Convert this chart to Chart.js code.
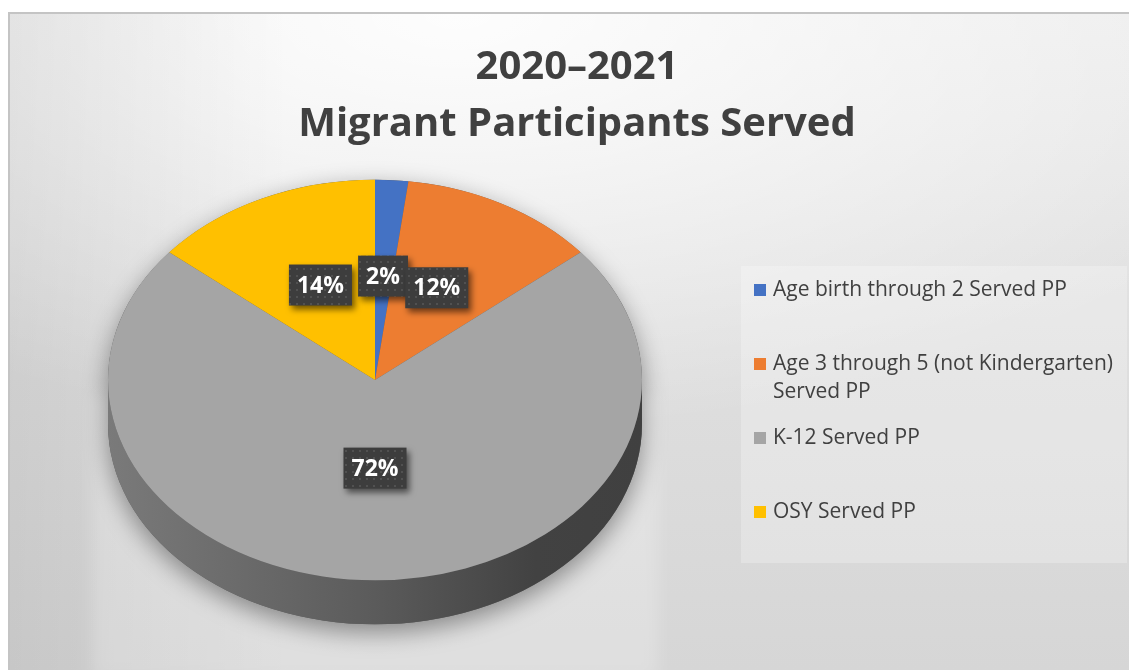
<!DOCTYPE html>
<html>
<head>
<meta charset="utf-8">
<title>Migrant Participants Served</title>
<script src="https://cdn.jsdelivr.net/npm/chart.js@4.4.1/dist/chart.umd.min.js"></script>
<style>
    html, body { margin: 0; padding: 0; background: #fff; }
    body { width: 1129px; height: 670px; position: relative; overflow: hidden; font-family: 'Open Sans', Lato, sans-serif; }
    #frame {
        position: absolute; left: 8px; top: 12px; right: 0; bottom: 0;
        border-left: 2px solid #c4c4c4; border-top: 2px solid #c4c4c4;
        background:
            linear-gradient(to right, rgba(0,0,0,0.07) 0px, rgba(0,0,0,0) 280px),
            radial-gradient(ellipse 900px 420px at 40% 0%, rgba(255,255,255,0.9), rgba(255,255,255,0) 100%),
            linear-gradient(to bottom, #ececec 0%, #dedede 55%, #d6d6d6 100%);
    }
    #pie { position: absolute; left: 0; top: 0; }
    #title {
        position: absolute; left: 0; top: 35px; width: 1154px;
        text-align: center; font-weight: bold; font-size: 40px; line-height: 57px; color: #404040;
    }
    #legend {
        position: absolute; left: 741px; top: 266px; width: 386px; height: 297px;
        background: rgba(255,255,255,0.25);
    }
    #legend .item {
        position: absolute; left: 13px; display: flex; align-items: flex-start;
        font-size: 21px; line-height: 28px; color: #404040;
    }
    #legend .swatch { flex: none; width: 12px; height: 12px; margin-top: 10px; margin-right: 7px; }
    #legend .text { width: 354px; }
</style>
</head>
<body>
<div id="frame"></div>
<canvas id="pie" width="1129" height="670"></canvas>
<div id="title"></div>
<div id="legend"></div>
<script>
// Participants served, share of total (%)
const categories = [
    'Age birth through 2 Served PP',
    'Age 3 through 5 (not Kindergarten) Served PP',
    'K-12 Served PP',
    'OSY Served PP'
];
const shares = [2, 12, 72, 14];
const sliceColors = ['#4472c4', '#ed7d31', '#a5a5a5', '#ffc000'];
const titleLines = ['2020–2021', 'Migrant Participants Served'];

// where the tilted pie sits on the page
const CX = 375, CY = 380, TILT = 0.75, DEPTH = 44;

document.getElementById('title').innerHTML = titleLines.join('<br>');

// legend on the right, one row slot per category
const legend = document.getElementById('legend');
categories.forEach((name, i) => {
    const item = document.createElement('div');
    item.className = 'item';
    item.style.top = (8 + i * 74) + 'px';
    item.innerHTML = `<span class="swatch" style="background:${sliceColors[i]}"></span><span class="text">${name}</span>`;
    legend.appendChild(item);
});

function shade(hex, f) {
    const n = parseInt(hex.slice(1), 16);
    const r = Math.round(((n >> 16) & 255) * f);
    const g = Math.round(((n >> 8) & 255) * f);
    const b = Math.round((n & 255) * f);
    return `rgb(${r},${g},${b})`;
}

// small dotted texture used behind the value labels
function dotPattern(ctx) {
    const c = document.createElement('canvas');
    c.width = 7; c.height = 7;
    const p = c.getContext('2d');
    p.fillStyle = '#3d3d3d';
    p.fillRect(0, 0, 7, 7);
    p.fillStyle = '#515151';
    p.fillRect(2, 2, 2, 2);
    return ctx.createPattern(c, 'repeat');
}

const pie3d = {
    id: 'pie3d',
    beforeDatasetsDraw(chart) {
        const ctx = chart.ctx;
        const arcs = chart.getDatasetMeta(0).data;
        const rx = arcs[0].outerRadius, ry = rx * TILT;

        // faint light block behind the pie
        ctx.save();
        ctx.filter = 'blur(8px)';
        ctx.fillStyle = 'rgba(255,255,255,0.22)';
        ctx.fillRect(CX - rx - 16, CY + 15, 2 * rx + 32, ry + DEPTH + 40);
        ctx.restore();

        // soft shadow under the whole body
        ctx.save();
        ctx.beginPath();
        ctx.ellipse(CX, CY, rx, ry, 0, Math.PI, 2 * Math.PI);
        ctx.ellipse(CX, CY + DEPTH, rx, ry, 0, 0, Math.PI);
        ctx.closePath();
        ctx.shadowColor = 'rgba(0,0,0,0.4)';
        ctx.shadowBlur = 24;
        ctx.shadowOffsetY = 8;
        ctx.fillStyle = '#5a5a5a';
        ctx.fill();
        ctx.restore();

        // side wall of each slice that faces the viewer
        arcs.forEach((arc, i) => {
            const a0 = Math.max(arc.startAngle, 0);
            const a1 = Math.min(arc.endAngle, Math.PI);
            if (a1 <= a0) return;
            const grad = ctx.createLinearGradient(CX - rx, 0, CX + rx, 0);
            const col = sliceColors[i];
            grad.addColorStop(0, shade(col, 0.74));
            grad.addColorStop(0.5, shade(col, 0.55));
            grad.addColorStop(0.8, shade(col, 0.40));
            grad.addColorStop(1, shade(col, 0.39));
            ctx.beginPath();
            ctx.ellipse(CX, CY, rx, ry, 0, a0, a1);
            ctx.ellipse(CX, CY + DEPTH, rx, ry, 0, a1, a0, true);
            ctx.closePath();
            ctx.fillStyle = grad;
            ctx.fill();
        });

        // squash the top face into an ellipse
        ctx.save();
        ctx.translate(CX, CY);
        ctx.scale(1, TILT);
        ctx.translate(-arcs[0].x, -arcs[0].y);
    },
    afterDatasetsDraw(chart) {
        const ctx = chart.ctx;
        ctx.restore();

        const arcs = chart.getDatasetMeta(0).data;
        const values = chart.data.datasets[0].data;
        const total = values.reduce((a, b) => a + b, 0);
        const pattern = dotPattern(ctx);
        const r = arcs[0].outerRadius * 0.48;

        ctx.save();
        ctx.font = 'bold 23px "Open Sans", sans-serif';
        ctx.textAlign = 'center';
        ctx.textBaseline = 'middle';
        arcs.forEach((arc, i) => {
            const mid = (arc.startAngle + arc.endAngle) / 2;
            const x = CX + Math.cos(mid) * r;
            const y = CY - 8 + Math.sin(mid) * r * TILT;
            const text = Math.round(values[i] / total * 100) + '%';
            const w = ctx.measureText(text).width + 16, h = 41;

            ctx.save();
            ctx.shadowColor = 'rgba(0,0,0,0.55)';
            ctx.shadowBlur = 6;
            ctx.shadowOffsetX = 3;
            ctx.shadowOffsetY = 4;
            ctx.fillStyle = pattern;
            ctx.fillRect(x - w / 2, y - h / 2, w, h);
            ctx.restore();

            ctx.fillStyle = '#ffffff';
            ctx.fillText(text, x, y + 1);
        });
        ctx.restore();
    }
};

new Chart(document.getElementById('pie'), {
    type: 'pie',
    data: {
        labels: categories,
        datasets: [{
            data: shares,
            backgroundColor: sliceColors,
            borderWidth: 0,
            clip: false
        }]
    },
    options: {
        responsive: false,
        animation: false,
        events: [],
        layout: { padding: { left: 108, right: 487, top: 68, bottom: 68 } },
        plugins: {
            legend: { display: false },
            tooltip: { enabled: false },
            title: { display: false }
        }
    },
    plugins: [pie3d]
});
</script>
</body>
</html>
